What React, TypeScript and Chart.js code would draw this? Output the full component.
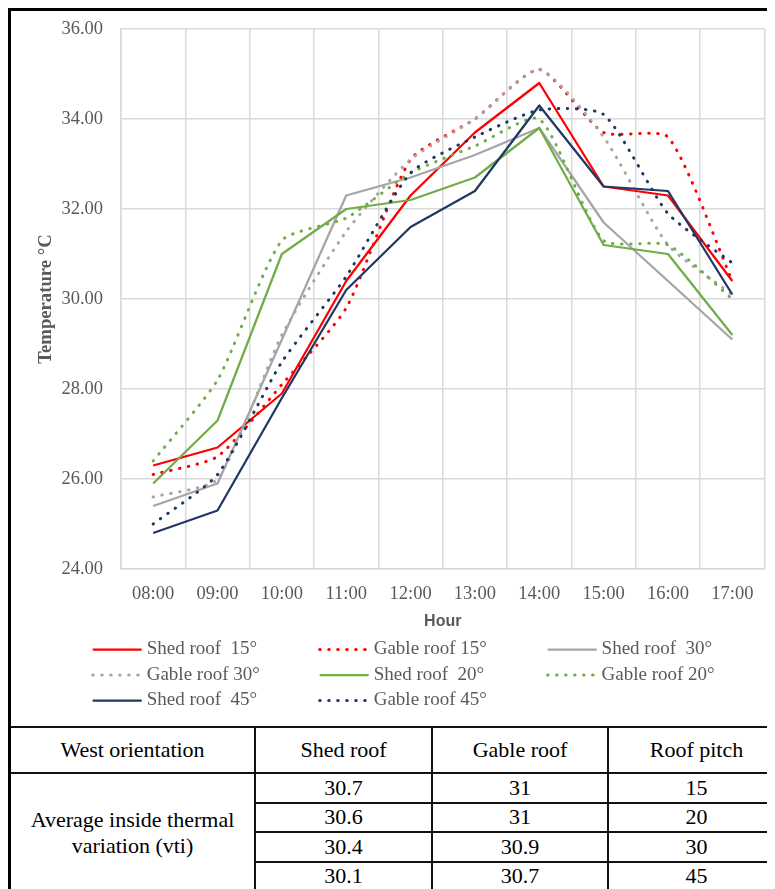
import React, { useEffect, useRef } from "react";
import { Chart, registerables } from "chart.js";

Chart.register(...registerables);

// ---------- data ----------
const HOURS = ["08:00", "09:00", "10:00", "11:00", "12:00", "13:00", "14:00", "15:00", "16:00", "17:00"];

const SHED_15 = [26.3, 26.7, 27.9, 30.4, 32.3, 33.7, 34.8, 32.5, 32.3, 30.4];
const GABLE_15 = [26.1, 26.5, 28.1, 29.8, 33.1, 34.0, 35.1, 33.7, 33.6, 30.4];
const SHED_30 = [25.4, 25.9, 29.1, 32.3, 32.7, 33.2, 33.8, 31.7, 30.4, 29.1];
const GABLE_30 = [25.6, 26.0, 29.2, 31.5, 33.1, 34.0, 35.1, 33.6, 31.2, 30.1];
const SHED_20 = [25.9, 27.3, 31.0, 32.0, 32.2, 32.7, 33.8, 31.2, 31.0, 29.2];
const GABLE_20 = [26.4, 28.2, 31.3, 31.8, 32.8, 33.4, 34.0, 31.3, 31.2, 30.0];
const SHED_45 = [24.8, 25.3, 27.8, 30.2, 31.6, 32.4, 34.3, 32.5, 32.4, 30.1];
const GABLE_45 = [25.0, 26.1, 28.6, 30.5, 32.8, 33.6, 34.2, 34.1, 31.9, 30.8];

const SERIES_LABELS = [
  "Shed roof  15°",
  "Gable roof 15°",
  "Shed roof  30°",
  "Gable roof 30°",
  "Shed roof  20°",
  "Gable roof 20°",
  "Shed roof  45°",
  "Gable roof 45°",
];

const Y_MIN = 24;
const Y_MAX = 36;
const Y_STEP = 2;

const TABLE_HEADERS = ["West orientation", "Shed roof", "Gable roof", "Roof pitch"];
const TABLE_ROW_LABEL = ["Average inside thermal", "variation (vti)"];
const TABLE_SHED = ["30.7", "30.6", "30.4", "30.1"];
const TABLE_GABLE = ["31", "31", "30.9", "30.7"];
const TABLE_PITCH = ["15", "20", "30", "45"];

// ---------- styles ----------
const RED = "#FF0000";
const GRAY = "#A5A5A5";
const GREEN = "#70AD47";
const NAVY = "#203864";
const TEXT = "#595959";
const GRID = "#D9D9D9";
const SERIF = '"Liberation Serif", "Times New Roman", serif';
const SANS = '"Liberation Sans", Arial, sans-serif';

const LEG_X = [81.7, 308.7, 536.6];
const LEG_Y = [638.5, 664, 689.5];

const legendPlugin = {
  id: "gridLegend",
  afterDraw(chart: any) {
    const ctx = chart.ctx;
    chart.data.datasets.forEach((ds: any, i: number) => {
      const col = i % 3;
      const row = Math.floor(i / 3);
      const x = LEG_X[col];
      const y = LEG_Y[row];
      ctx.save();
      ctx.strokeStyle = ds.borderColor;
      ctx.lineWidth = ds.borderWidth;
      ctx.setLineDash(ds.borderDash || []);
      ctx.lineCap = ds.borderCapStyle || "butt";
      ctx.beginPath();
      ctx.moveTo(x, y);
      ctx.lineTo(x + 49, y);
      ctx.stroke();
      ctx.setLineDash([]);
      ctx.fillStyle = TEXT;
      ctx.font = `19px ${SERIF}`;
      ctx.textBaseline = "middle";
      ctx.textAlign = "left";
      ctx.fillText(ds.label, x + 54, y);
      ctx.restore();
    });
  },
};

function solid(label: string, data: number[], color: string, i: number) {
  return {
    label,
    data,
    borderColor: color,
    backgroundColor: color,
    borderWidth: 2.25,
    borderDash: [],
    borderCapStyle: "butt",
    borderJoinStyle: "round",
    tension: 0,
    pointRadius: 0,
    fill: false,
    order: 20 - i,
  };
}

function dotted(label: string, data: number[], color: string, i: number) {
  return {
    label,
    data,
    borderColor: color,
    backgroundColor: color,
    borderWidth: 3,
    borderDash: [0.5, 8.5],
    borderCapStyle: "round",
    borderJoinStyle: "round",
    tension: 0.2,
    pointRadius: 0,
    fill: false,
    order: 20 - i,
  };
}

function ChartView() {
  const ref = useRef<HTMLCanvasElement | null>(null);
  useEffect(() => {
    if (!ref.current) return;
    const chart = new Chart(ref.current, {
      type: "line",
      data: {
        labels: HOURS,
        datasets: [
          solid(SERIES_LABELS[0], SHED_15, RED, 0),
          dotted(SERIES_LABELS[1], GABLE_15, RED, 1),
          solid(SERIES_LABELS[2], SHED_30, GRAY, 2),
          dotted(SERIES_LABELS[3], GABLE_30, GRAY, 3),
          solid(SERIES_LABELS[4], SHED_20, GREEN, 4),
          dotted(SERIES_LABELS[5], GABLE_20, GREEN, 5),
          solid(SERIES_LABELS[6], SHED_45, NAVY, 6),
          dotted(SERIES_LABELS[7], GABLE_45, NAVY, 7),
        ] as any,
      },
      options: {
        responsive: false,
        animation: false,
        devicePixelRatio: 1,
        layout: { padding: { top: 18, right: 19.5, bottom: 95, left: 0 } },
        plugins: {
          legend: { display: false },
          tooltip: { enabled: false },
        },
        scales: {
          x: {
            type: "category",
            offset: true,
            grid: { offset: true, color: GRID, lineWidth: 1.5, drawTicks: false },
            border: { display: true, color: GRID, width: 1.5 },
            ticks: {
              font: { family: SERIF, size: 18.5 },
              color: TEXT,
              padding: 14.5,
              maxRotation: 0,
              autoSkip: false,
            },
            title: {
              display: true,
              text: "Hour",
              font: { family: SANS, size: 16, weight: "bold", lineHeight: 1.2 },
              color: TEXT,
              padding: { top: 4, bottom: 0 },
            },
            afterFit: (s: any) => {
              s.height = 62;
            },
          },
          y: {
            min: Y_MIN,
            max: Y_MAX,
            grid: { color: GRID, lineWidth: 1.5, drawTicks: false },
            border: { display: true, color: GRID, width: 1.5 },
            ticks: {
              stepSize: Y_STEP,
              font: { family: SERIF, size: 18.5 },
              color: TEXT,
              padding: 18,
              callback: (v: any) => Number(v).toFixed(2),
            },
            title: {
              display: true,
              text: "Temperature °C",
              font: { family: SERIF, size: 18.7, weight: "bold", lineHeight: 1.2 },
              color: TEXT,
              padding: { top: 24, bottom: 0 },
            },
            afterFit: (s: any) => {
              s.width = 110;
              s.paddingTop = 0;
              s.paddingBottom = 0;
            },
          },
        },
      } as any,
      plugins: [legendPlugin],
    });
    return () => chart.destroy();
  }, []);
  return <canvas ref={ref} width={773} height={715} style={{ display: "block", width: 773, height: 715 }} />;
}

const LINE = "2px solid #111";

export default function App() {
  const cell: React.CSSProperties = {
    padding: 0,
    textAlign: "center",
    verticalAlign: "middle",
    fontFamily: SERIF,
    fontSize: 22,
    color: "#000",
    lineHeight: "26px",
  };
  return (
    <>
      <style>{`html,body{overflow:hidden}`}</style>
      <div style={{ width: 773, borderLeft: "3px solid #000", borderTop: "3px solid #000", background: "#fff" }}>
        <ChartView />
        <table style={{ borderCollapse: "collapse", width: 773, tableLayout: "fixed" }}>
          <colgroup>
            <col style={{ width: 244 }} />
            <col style={{ width: 177 }} />
            <col style={{ width: 176 }} />
            <col style={{ width: 176 }} />
          </colgroup>
          <tbody>
            <tr style={{ height: 46 }}>
              {TABLE_HEADERS.map((h, i) => (
                <td
                  key={h}
                  style={{ ...cell, borderTop: LINE, borderBottom: LINE, borderRight: i < 3 ? LINE : "none" }}
                >
                  {h}
                </td>
              ))}
            </tr>
            {TABLE_SHED.map((v, r) => (
              <tr key={r} style={{ height: 29.5 }}>
                {r === 0 && (
                  <td rowSpan={4} style={{ ...cell, borderRight: LINE }}>
                    {TABLE_ROW_LABEL[0]}
                    <br />
                    {TABLE_ROW_LABEL[1]}
                  </td>
                )}
                <td style={{ ...cell, borderRight: LINE, borderBottom: LINE }}>{v}</td>
                <td style={{ ...cell, borderRight: LINE, borderBottom: LINE }}>{TABLE_GABLE[r]}</td>
                <td style={{ ...cell, borderBottom: LINE }}>{TABLE_PITCH[r]}</td>
              </tr>
            ))}
          </tbody>
        </table>
      </div>
    </>
  );
}
